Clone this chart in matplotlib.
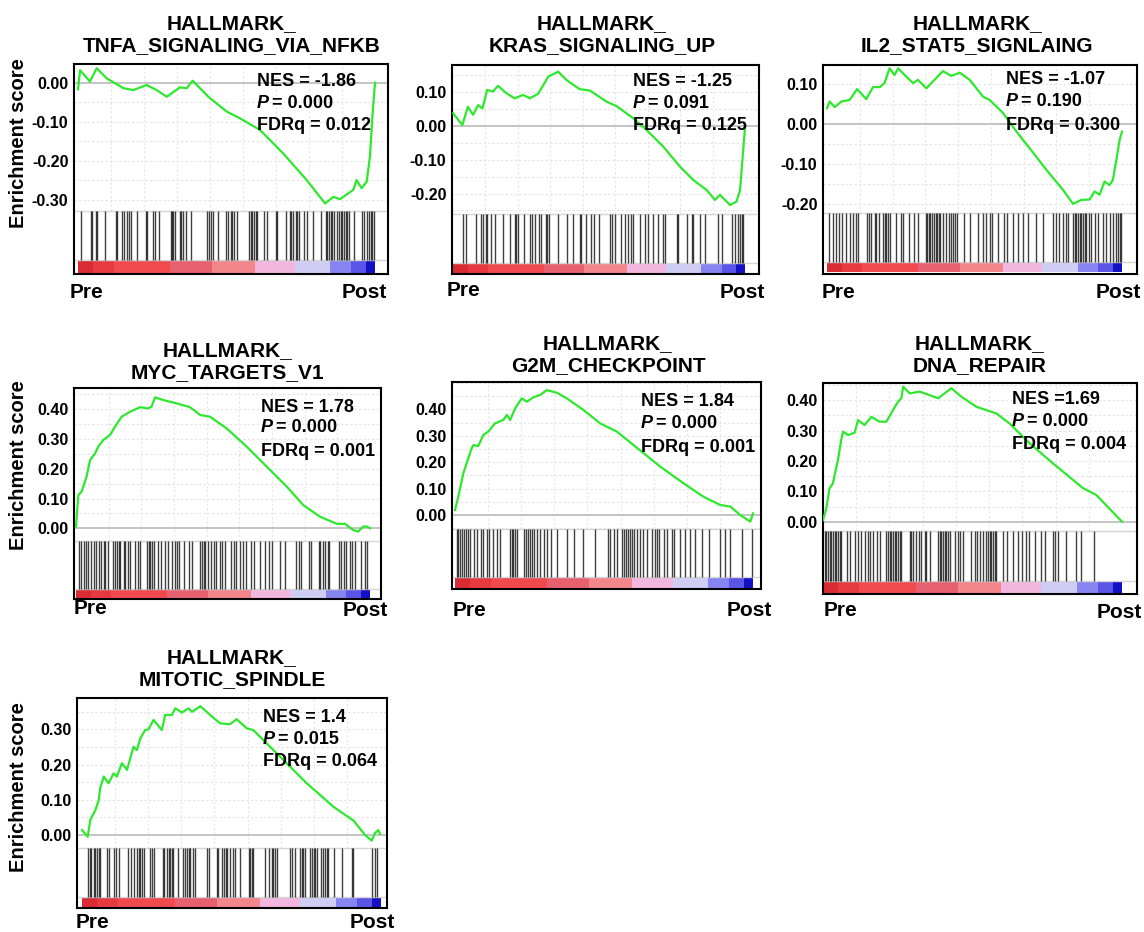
import numpy as np
import matplotlib.pyplot as plt
from matplotlib.colors import to_rgb

plt.rcParams['font.family'] = ['Liberation Sans', 'DejaVu Sans']
plt.rcParams['font.weight'] = 'bold'

W, H = 1144, 932

# ---------------- data (rank in % of ranked list, running ES, hit ranks) ----------------
tnfa_rank = [0, 0.7, 4.0, 6.3, 9.7, 15.3, 18.6, 23.1, 26.5, 29.9, 34.3, 36.6, 38.6, 43.9, 50.1,
             54.5, 61.3, 69.1, 77.0, 83.2, 86.0, 88.2, 92.7, 93.8, 95.5, 97.2, 98.3, 99.2, 100]
tnfa_es = [-0.017, 0.032, 0.003, 0.037, 0.011, -0.014, -0.019, -0.006, -0.019, -0.036, -0.012,
           -0.014, 0.005, -0.036, -0.074, -0.091, -0.121, -0.181, -0.249, -0.309, -0.292, -0.298,
           -0.274, -0.249, -0.270, -0.253, -0.189, -0.078, 0.0]
tnfa_hits = [1.1, 4.3, 4.8, 5.9, 6.5, 9.0, 12.7, 13.2, 14.7, 15.5, 16.6, 17.2, 18.0, 20.0, 22.8,
             23.3, 25.3, 25.8, 27.3, 31.2, 31.5, 32.1, 32.7, 34.2, 34.8, 35.5, 36.3, 37.9, 43.5,
             44.1, 44.7, 45.6, 47.1, 49.7, 50.5, 51.4, 52.0, 52.5, 53.6, 57.6, 58.1, 58.7, 59.3,
             59.8, 60.4, 62.6, 63.5, 66.6, 67.1, 69.9, 71.4, 71.8, 72.5, 73.3, 73.8, 74.4, 76.1,
             77.2, 79.2, 81.7, 83.4, 84.0, 84.5, 85.1, 85.6, 86.2, 87.3, 87.9, 88.4, 89.0, 89.6,
             90.1, 90.7, 91.2, 92.9, 95.7, 96.3, 97.4, 98.0, 98.5, 99.1, 99.7]

kras_rank = [0, 3.2, 5.1, 6.9, 8.6, 10.1, 11.7, 13.7, 15.4, 18.3, 21.1, 24.0, 26.3, 29.1, 30.3,
             32.6, 36.0, 38.9, 43.4, 46.9, 52.6, 56.0, 61.7, 66.3, 72.0, 77.7, 82.3, 86.9, 89.7,
             91.4, 94.9, 97.1, 98.3, 99.2, 100]
kras_es = [0.038, 0.003, 0.057, 0.033, 0.062, 0.052, 0.107, 0.102, 0.119, 0.097, 0.082, 0.092,
           0.082, 0.095, 0.112, 0.146, 0.161, 0.136, 0.109, 0.105, 0.072, 0.059, 0.023, -0.012,
           -0.061, -0.120, -0.160, -0.190, -0.219, -0.204, -0.234, -0.224, -0.190, -0.091, -0.005]
kras_hits = [3.4, 4.6, 8.0, 9.7, 10.3, 11.2, 11.7, 13.1, 14.3, 17.1, 19.4, 21.1, 21.7, 22.3, 24.2,
             26.5, 27.2, 28.0, 29.5, 30.3, 32.0, 32.3, 32.8, 36.0, 38.9, 41.1, 43.4, 44.0, 45.7,
             47.4, 48.2, 50.1, 53.7, 54.3, 55.4, 57.7, 58.9, 59.8, 61.1, 61.7, 64.0, 65.7, 66.9,
             68.6, 70.3, 72.0, 72.6, 76.6, 77.1, 80.0, 81.7, 82.3, 84.6, 86.3, 90.9, 92.0, 95.4,
             96.6, 97.7, 98.3, 98.9, 99.4]

il2_rank = [0, 0.9, 2.6, 4.9, 7.7, 10.2, 13.3, 15.6, 17.9, 19.5, 21.2, 22.9, 24.1, 26.9, 29.2,
            30.8, 33.7, 35.9, 39.3, 42.1, 45.0, 48.4, 52.9, 55.1, 59.7, 64.2, 68.7, 74.4, 80.0,
            83.4, 86.2, 89.0, 90.7, 92.4, 94.1, 95.8, 96.9, 98.1, 99.2, 100]
il2_es = [0.040, 0.057, 0.043, 0.057, 0.061, 0.088, 0.063, 0.093, 0.093, 0.103, 0.140, 0.123,
          0.140, 0.119, 0.103, 0.111, 0.090, 0.107, 0.133, 0.121, 0.129, 0.111, 0.069, 0.061,
          0.028, -0.018, -0.060, -0.114, -0.164, -0.199, -0.189, -0.188, -0.168, -0.176, -0.143,
          -0.152, -0.139, -0.089, -0.039, -0.018]
il2_hits = [0.7, 2.0, 3.2, 4.1, 5.2, 6.6, 7.7, 8.8, 9.7, 10.5, 13.6, 14.2, 15.0, 16.2, 16.7, 17.6,
            19.0, 19.5, 20.1, 20.7, 21.2, 23.5, 25.2, 25.8, 27.8, 29.4, 30.8, 33.7, 34.0, 34.6,
            35.0, 35.7, 36.2, 36.8, 37.4, 38.0, 38.4, 39.3, 40.5, 41.2, 42.1, 42.7, 43.3, 44.1,
            46.3, 48.4, 51.2, 52.9, 54.0, 55.1, 56.0, 58.0, 59.9, 61.0, 63.1, 64.7, 66.4, 68.1,
            71.0, 73.2, 76.6, 77.7, 78.6, 80.0, 81.1, 81.7, 83.4, 84.0, 84.5, 85.1, 85.6, 86.2,
            86.8, 87.3, 87.9, 88.8, 89.6, 90.7, 91.9, 93.6, 94.7, 95.8, 96.9, 98.1, 98.6, 99.2, 99.8]

myc_rank = [0, 0.8, 1.9, 3.6, 4.8, 6.5, 7.6, 9.3, 11.6, 13.3, 15.5, 18.4, 21.8, 24.6, 25.7, 26.9,
            29.7, 34.2, 38.8, 42.2, 45.6, 51.2, 58.0, 64.9, 71.7, 77.3, 83.0, 88.7, 91.5, 94.3,
            96.0, 97.7, 98.9, 100]
myc_es = [0.006, 0.112, 0.123, 0.174, 0.230, 0.252, 0.275, 0.297, 0.314, 0.342, 0.375, 0.392,
          0.407, 0.403, 0.409, 0.440, 0.431, 0.420, 0.407, 0.381, 0.375, 0.336, 0.275, 0.207,
          0.140, 0.078, 0.039, 0.015, 0.015, -0.006, -0.011, 0.006, 0.006, 0.0]
myc_hits = [1.1, 1.8, 2.6, 3.4, 4.1, 5.2, 6.0, 6.8, 7.7, 8.6, 9.4, 10.0, 10.9, 12.5, 13.2, 13.9,
            14.5, 15.1, 16.2, 16.8, 17.7, 18.5, 20.2, 21.1, 21.9, 24.1, 24.7, 25.3, 25.9, 26.4,
            27.9, 29.0, 30.2, 31.3, 32.7, 33.8, 34.4, 35.1, 36.6, 38.5, 39.5, 42.3, 42.9, 43.4,
            44.0, 44.9, 46.0, 46.8, 47.6, 49.1, 49.7, 50.8, 52.8, 53.6, 54.4, 55.9, 56.7, 57.8,
            59.6, 60.4, 62.7, 64.4, 65.5, 66.7, 69.5, 71.2, 74.8, 75.7, 76.6, 79.1, 80.0, 82.5,
            83.1, 83.9, 84.8, 85.7, 86.2, 89.3, 90.2, 91.0, 91.8, 93.3, 93.9, 95.0, 97.1, 98.4, 99.0]

g2m_rank = [0, 1.1, 2.8, 3.9, 5.6, 6.2, 7.8, 9.5, 11.2, 13.4, 16.2, 17.4, 18.5, 20.2, 22.4, 24.1,
            26.3, 28.6, 30.8, 34.2, 37.5, 43.1, 48.7, 54.3, 59.9, 68.9, 76.7, 83.4, 89.0, 92.4,
            95.7, 99.1, 100]
g2m_es = [0.019, 0.069, 0.158, 0.196, 0.253, 0.265, 0.261, 0.303, 0.316, 0.347, 0.360, 0.379,
          0.360, 0.404, 0.442, 0.429, 0.446, 0.455, 0.473, 0.463, 0.442, 0.398, 0.347, 0.316,
          0.265, 0.183, 0.120, 0.069, 0.038, 0.032, 0.0, -0.025, 0.006]
g2m_hits = [0.6, 1.1, 1.7, 2.2, 3.0, 3.7, 4.5, 5.0, 6.4, 7.5, 8.7, 9.5, 10.6, 11.5, 12.9, 14.0,
            15.1, 18.5, 19.0, 19.6, 20.2, 20.9, 23.0, 23.9, 24.6, 25.2, 26.0, 26.5, 27.4, 28.6,
            29.7, 30.8, 32.1, 34.2, 37.5, 39.8, 43.1, 47.0, 51.5, 52.1, 53.2, 54.5, 56.0, 56.6,
            57.4, 58.2, 58.8, 59.4, 59.9, 61.0, 62.2, 63.0, 64.4, 66.1, 67.2, 67.7, 68.3, 70.0,
            71.1, 72.8, 73.6, 75.6, 77.3, 78.9, 80.6, 82.9, 85.1, 89.0, 90.7, 92.4, 96.3, 99.7]

dna_rank = [0, 1.1, 2.2, 3.3, 4.5, 5.0, 6.1, 6.7, 8.4, 10.6, 11.7, 13.9, 16.2, 18.9, 21.2, 23.4,
            25.1, 26.2, 26.8, 29.0, 32.3, 34.6, 38.5, 42.9, 46.3, 51.3, 58.0, 62.4, 69.1, 76.9,
            87.0, 91.4, 100]
dna_es = [0.005, 0.044, 0.110, 0.126, 0.181, 0.203, 0.269, 0.296, 0.285, 0.293, 0.334, 0.318,
          0.345, 0.329, 0.329, 0.367, 0.395, 0.406, 0.444, 0.422, 0.428, 0.420, 0.406, 0.439,
          0.411, 0.378, 0.356, 0.323, 0.258, 0.192, 0.110, 0.088, 0.0]
dna_hits = [0.6, 1.1, 1.7, 2.2, 2.8, 3.3, 3.9, 4.5, 5.0, 5.6, 6.1, 8.0, 8.9, 10.6, 11.7, 12.8,
            13.9, 15.1, 15.6, 16.7, 18.1, 19.0, 21.2, 21.7, 22.3, 22.9, 23.4, 24.0, 24.5, 25.1,
            25.6, 26.2, 29.0, 29.5, 30.1, 31.2, 32.1, 32.9, 34.0, 34.6, 35.7, 38.5, 39.0, 39.6,
            40.1, 40.7, 41.2, 41.8, 42.4, 44.0, 45.2, 45.7, 46.8, 49.6, 50.7, 51.5, 52.4, 53.5,
            54.6, 55.2, 55.7, 56.3, 56.9, 57.4, 58.0, 60.2, 61.5, 63.5, 65.2, 66.7, 68.0, 68.9,
            70.8, 73.0, 74.1, 76.9, 77.5, 78.6, 81.4, 84.5, 86.4, 90.5]

mito_rank = [0, 1.9, 2.8, 4.5, 5.6, 6.1, 7.3, 8.9, 10.6, 11.7, 13.4, 15.1, 17.3, 18.4, 19.6, 21.2,
             22.3, 24.0, 26.8, 27.9, 30.2, 31.3, 33.5, 35.8, 36.9, 39.7, 43.0, 46.4, 49.7, 51.9,
             55.3, 57.5, 62.0, 67.6, 75.4, 84.4, 91.1, 95.0, 97.2, 98.3, 99.4, 100]
mito_es = [0.014, -0.005, 0.043, 0.071, 0.099, 0.133, 0.166, 0.147, 0.175, 0.166, 0.204, 0.185,
           0.251, 0.241, 0.275, 0.298, 0.300, 0.327, 0.298, 0.341, 0.341, 0.360, 0.348, 0.360,
           0.350, 0.366, 0.341, 0.317, 0.315, 0.329, 0.303, 0.298, 0.260, 0.213, 0.147, 0.080,
           0.041, 0.0, -0.016, 0.005, 0.014, 0.003]
mito_hits = [1.9, 2.6, 3.0, 3.9, 4.5, 5.0, 5.6, 6.1, 8.4, 8.9, 10.6, 11.5, 12.3, 15.6, 16.4, 17.3,
             18.4, 19.0, 19.6, 20.1, 20.9, 22.7, 23.5, 24.0, 27.2, 27.6, 28.5, 29.1, 29.6, 30.2,
             30.7, 32.1, 33.9, 34.6, 35.2, 35.8, 36.3, 37.4, 38.0, 41.9, 42.5, 45.3, 45.8, 46.9,
             47.7, 48.2, 48.6, 49.5, 50.6, 51.4, 53.1, 55.9, 56.4, 57.0, 57.5, 61.5, 62.6, 63.7,
             64.2, 64.8, 65.4, 69.8, 70.4, 71.5, 73.2, 73.7, 74.3, 74.9, 76.5, 77.1, 77.7, 78.2,
             78.8, 80.1, 80.8, 81.6, 82.1, 82.7, 84.6, 87.2, 90.5, 91.1, 97.2, 98.3, 98.9]

titles = ['HALLMARK_\nTNFA_SIGNALING_VIA_NFKB', 'HALLMARK_\nKRAS_SIGNALING_UP',
          'HALLMARK_\nIL2_STAT5_SIGNLAING', 'HALLMARK_\nMYC_TARGETS_V1',
          'HALLMARK_\nG2M_CHECKPOINT', 'HALLMARK_\nDNA_REPAIR', 'HALLMARK_\nMITOTIC_SPINDLE']
nes_labels = ['NES = -1.86', 'NES = -1.25', 'NES = -1.07', 'NES = 1.78', 'NES = 1.84',
              'NES =1.69', 'NES = 1.4']
p_labels = ['0.000', '0.091', '0.190', '0.000', '0.000', '0.000', '0.015']
fdr_labels = ['0.012', '0.125', '0.300', '0.001', '0.001', '0.004', '0.064']
neg_ticks = [0.0, -0.1, -0.2, -0.3]
mixed_ticks = [0.1, 0.0, -0.1, -0.2]
pos_ticks = [0.4, 0.3, 0.2, 0.1, 0.0]
mito_ticks = [0.3, 0.2, 0.1, 0.0]

curves = [(tnfa_rank, tnfa_es, tnfa_hits, neg_ticks),
          (kras_rank, kras_es, kras_hits, mixed_ticks),
          (il2_rank, il2_es, il2_hits, mixed_ticks),
          (myc_rank, myc_es, myc_hits, pos_ticks),
          (g2m_rank, g2m_es, g2m_hits, pos_ticks),
          (dna_rank, dna_es, dna_hits, pos_ticks),
          (mito_rank, mito_es, mito_hits, mito_ticks)]

# ---------------- layout in figure pixels ----------------
layouts = [
    dict(box=(74, 64, 388, 274), dx=(78, 375), zero=82.7, tenth=39.1, hit=211, cbt=260, cbb=273,
         title=(232, 35), stats=(257, (81, 103, 126)), pre=(70, 293), post=(387, 293), ylab=143),
    dict(box=(452, 65, 759, 274), dx=(453, 745), zero=126, tenth=33.75, hit=214, cbt=263, cbb=273,
         title=(602, 35), stats=(633, (81, 103, 126)), pre=(447, 291), post=(765, 292), ylab=None),
    dict(box=(823, 65, 1137, 274), dx=(827, 1122), zero=124.3, tenth=40, hit=213, cbt=262, cbb=272,
         title=(977, 35), stats=(1006, (80, 102, 126)), pre=(822, 293), post=(1141, 293), ylab=None),
    dict(box=(74, 388, 381, 599), dx=(76, 370), zero=528.3, tenth=29.75, hit=541, cbt=589, cbb=599,
         title=(227, 362), stats=(261, (407, 428, 452)), pre=(74, 609), post=(388, 610), ylab=465),
    dict(box=(452, 382, 761, 589), dx=(455, 753), zero=515, tenth=26.4, hit=529, cbt=577, cbb=588,
         title=(608, 355), stats=(641, (402, 424, 447)), pre=(453, 610), post=(772, 610), ylab=None),
    dict(box=(823, 383, 1137, 594), dx=(823, 1122), zero=521.7, tenth=30.4, hit=531, cbt=581, cbb=593,
         title=(980, 355), stats=(1012, (400, 422, 444)), pre=(824, 611), post=(1142, 613), ylab=None),
    dict(box=(77, 698, 387, 908), dx=(82, 380), zero=835, tenth=35.2, hit=848, cbt=897, cbb=907,
         title=(232, 669), stats=(263, (717, 739, 762)), pre=(76, 923), post=(395, 923), ylab=787),
]

# ranked-list colour strip (red = up in Pre, blue = up in Post)
cb_edges = [0, 5, 12, 31, 45, 59.5, 73, 85, 92, 97, 100]
cb_colors = ['#d92b33', '#e63a40', '#f04a4f', '#e6606f', '#f2868a', '#f3b6de', '#cfcdf4',
             '#8584f0', '#5a55e6', '#1410c4']
cb_x = np.linspace(0, 100, 400, endpoint=False)
cb_idx = np.searchsorted(cb_edges, cb_x, side='right') - 1
cb_img = np.array([[to_rgb(cb_colors[i]) for i in cb_idx]])


def fig_text(fig, x, y, s, **kw):
    fig.text(x / W, 1 - y / H, s, **kw)


def draw_panel(fig, rank, es, hits, yticks, lay):
    L, T, R, B = lay['box']
    x0, x1 = lay['dx']
    ax = fig.add_axes([L / W, 1 - B / H, (R - L) / W, (B - T) / H])
    sx = (x1 - x0) / 100.0

    def val(py):
        return (lay['zero'] - py) / lay['tenth'] * 0.1

    xlo, xhi = -(x0 - L) / sx, 100 + (R - x1) / sx
    y_top, y_bot = val(T), val(B)
    y_hit, y_cbt, y_cbb = val(lay['hit']), val(lay['cbt']), val(lay['cbb'])

    # faint dotted grid in the score area
    for g in np.arange(np.ceil(y_hit / 0.05) * 0.05, y_top, 0.05):
        if abs(g) > 1e-9:
            ax.hlines(g, xlo, xhi, colors='#e3e3e3', linestyles=(0, (2, 2)), lw=0.8)
    ax.vlines(np.arange(1, 9) * 100 / 9, y_hit, y_top, colors='#e6e6e6',
              linestyles=(0, (2, 2)), lw=0.8)
    ax.hlines(0, xlo, xhi, colors='#c4c4c4', lw=1.4)
    ax.hlines([y_hit, y_cbt], xlo, xhi, colors='#d6d6d6', lw=1.0)

    ax.vlines(hits, y_cbt, y_hit, colors='black', lw=1.0, alpha=0.75)
    ax.imshow(cb_img, extent=[0, 100, y_cbb, y_cbt], aspect='auto', interpolation='nearest')
    ax.plot(rank, es, color='#2ee82e', lw=1.6, zorder=5)

    ax.set_xlim(xlo, xhi)
    ax.set_ylim(y_bot, y_top)
    ax.set_xticks([])
    ax.set_yticks(yticks)
    ax.set_yticklabels([f'{t:.2f}' for t in yticks], fontsize=11.5, fontweight='bold')
    ax.tick_params(axis='y', length=0, pad=4)
    for s in ax.spines.values():
        s.set_linewidth(1.5)
    return ax


fig = plt.figure(figsize=(W / 100, H / 100), dpi=100)
fig.patch.set_facecolor('white')

for i, (rank, es, hits, yticks) in enumerate(curves):
    lay = layouts[i]
    draw_panel(fig, rank, es, hits, yticks, lay)
    tx, ty = lay['title']
    fig_text(fig, tx, ty, titles[i], ha='center', va='center', fontsize=15,
             fontweight='bold', linespacing=1.2)
    sx0, (y1, y2, y3) = lay['stats']
    fig_text(fig, sx0, y1, nes_labels[i], ha='left', va='center', fontsize=13, fontweight='bold')
    fig_text(fig, sx0, y2, 'P', ha='left', va='center', fontsize=13, fontweight='bold',
             fontstyle='italic')
    fig_text(fig, sx0 + 10, y2, ' = ' + p_labels[i], ha='left', va='center', fontsize=13,
             fontweight='bold')
    fig_text(fig, sx0, y3, 'FDRq = ' + fdr_labels[i], ha='left', va='center', fontsize=13,
             fontweight='bold')
    fig_text(fig, lay['pre'][0], lay['pre'][1], 'Pre', ha='left', va='center', fontsize=15,
             fontweight='bold')
    fig_text(fig, lay['post'][0], lay['post'][1], 'Post', ha='right', va='center', fontsize=15,
             fontweight='bold')
    if lay['ylab'] is not None:
        fig_text(fig, 19, lay['ylab'], 'Enrichment score', rotation=90, ha='center', va='center',
                 fontsize=14.5, fontweight='bold')

fig.savefig('out.png', dpi=100, facecolor='white')
